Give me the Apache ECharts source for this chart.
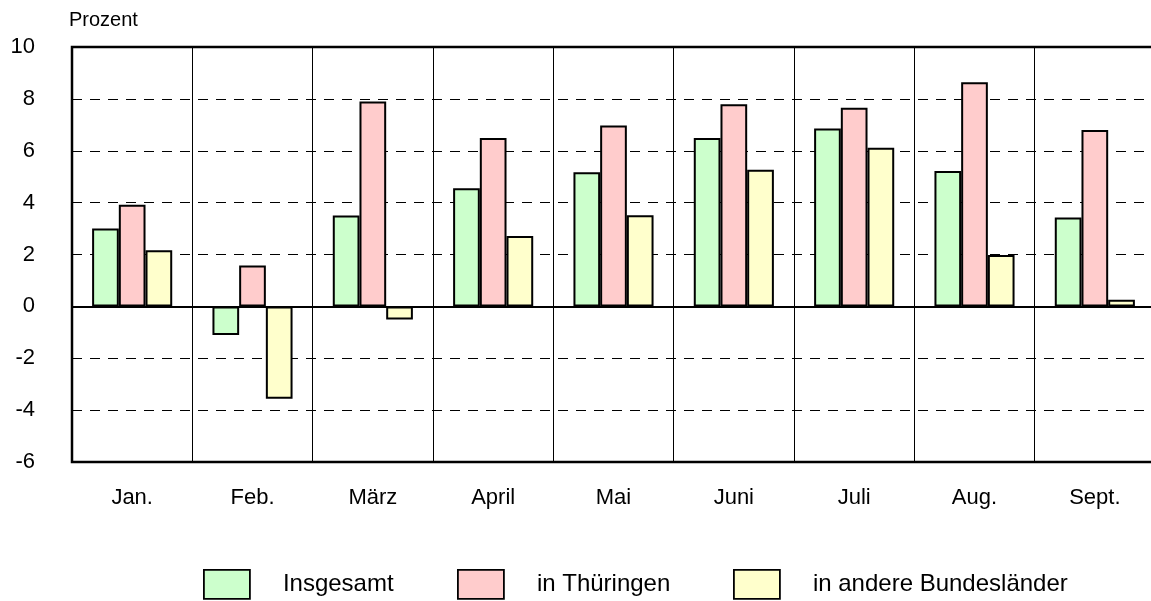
<!DOCTYPE html>
<html>
<head>
<meta charset="utf-8">
<script src="https://cdn.jsdelivr.net/npm/echarts@6/dist/echarts.min.js"></script>
<style>
html,body{margin:0;padding:0;background:#fff;overflow:hidden;}
#chart{width:1151px;height:601px;}
</style>
</head>
<body>
<div id="chart"></div>
<script>
const categories = ['Jan.', 'Feb.', 'März', 'April', 'Mai', 'Juni', 'Juli', 'Aug.', 'Sept.'];
const insgesamt = [3.0, -1.1, 3.5, 4.55, 5.17, 6.49, 6.86, 5.22, 3.43];
const thueringen = [3.92, 1.58, 7.9, 6.49, 6.97, 7.79, 7.66, 8.64, 6.8];
const andere = [2.16, -3.56, -0.51, 2.71, 3.51, 5.27, 6.12, 1.98, 0.26];
const seriesNames = ['Insgesamt', 'in Thüringen', 'in andere Bundesländer'];
const colors = ['#CCFFCC', '#FFCCCC', '#FFFFCC'];
const yTicks = { min: -6, max: 10, interval: 2 };
const FONT = '"Liberation Sans", Arial, sans-serif';

const chart = echarts.init(document.getElementById('chart'), null, { renderer: 'canvas' });

function barSeries(name, data, color, withZero) {
  const s = {
    name: name,
    type: 'bar',
    data: data,
    barWidth: 26.7,
    barGap: '0%',
    itemStyle: { color: color, borderColor: '#000', borderWidth: 2 },
    emphasis: { disabled: true },
    animation: false
  };
  if (withZero) {
    s.markLine = {
      silent: true,
      symbol: ['none', 'none'],
      label: { show: false },
      lineStyle: { color: '#000', width: 2.2, type: 'solid' },
      data: [{ yAxis: 0 }],
      animation: false
    };
  }
  return s;
}

const legendPos = [203, 457, 733];
const legends = seriesNames.map((n, i) => ({
  data: [n],
  left: legendPos[i],
  top: 569,
  padding: 0,
  orient: 'horizontal',
  itemWidth: 46,
  itemHeight: 29,
  icon: 'rect',
  selectedMode: false,
  itemStyle: { borderColor: '#000', borderWidth: 1.8 },
  textStyle: { fontFamily: FONT, fontSize: 24, color: '#000', padding: [0, 0, 0, 28] }
}));

chart.setOption({
  animation: false,
  backgroundColor: '#fff',
  title: {
    text: 'Prozent',
    left: 69,
    top: 10,
    padding: 0,
    textStyle: { fontFamily: FONT, fontSize: 20, fontWeight: 'normal', color: '#000' }
  },
  legend: legends,
  grid: {
    left: 72,
    top: 47,
    width: 1083,
    bottom: 139,
    show: true,
    borderColor: '#000',
    borderWidth: 2.5,
    backgroundColor: 'transparent',
    outerBoundsMode: 'none',
    containLabel: false
  },
  xAxis: {
    type: 'category',
    data: categories,
    axisLine: { show: false, onZero: false },
    axisTick: { show: false },
    axisLabel: { fontFamily: FONT, fontSize: 22, color: '#000', margin: 25 },
    splitLine: { show: true, interval: 0, lineStyle: { color: '#000', width: 1 } }
  },
  yAxis: {
    type: 'value',
    min: yTicks.min,
    max: yTicks.max,
    interval: yTicks.interval,
    axisLine: { show: false },
    axisTick: { show: false },
    axisLabel: { fontFamily: FONT, fontSize: 22, color: '#000', margin: 37 },
    splitLine: { show: true, lineStyle: { color: '#000', width: 1, type: [10, 8] } }
  },
  series: [
    barSeries(seriesNames[0], insgesamt, colors[0], true),
    barSeries(seriesNames[1], thueringen, colors[1], false),
    barSeries(seriesNames[2], andere, colors[2], false)
  ]
});
</script>
</body>
</html>
